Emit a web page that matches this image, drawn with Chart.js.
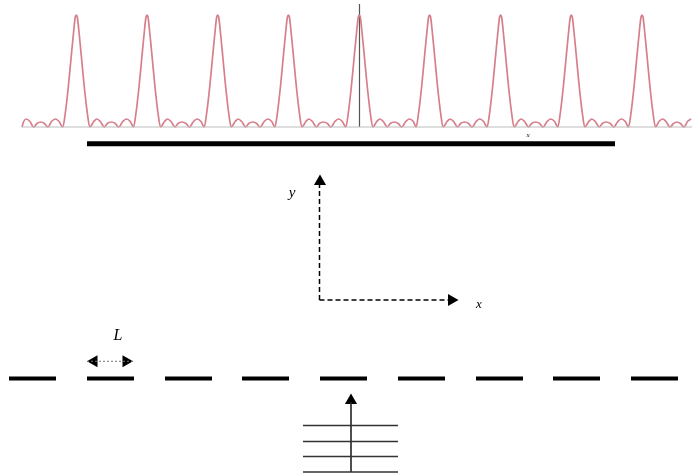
<!DOCTYPE html>
<html>
<head>
<meta charset="utf-8">
<script src="https://cdn.jsdelivr.net/npm/chart.js@4"></script>
<style>
  html, body { margin: 0; padding: 0; background: #fff; overflow: hidden; }
  canvas { display: block; }
</style>
</head>
<body>
<canvas id="chart" width="692" height="474"></canvas>
<script>

// intensity curve, one row per fringe
const curveX = [
  22, 23.5, 26, 30, 33.5, 37, 40.7, 44.5, 48, 51.5, 55.7, 59,
  62.8, 65.3, 68.3, 70.8, 73.3, 75.3, 76.3, 77.3, 79.3, 81.8, 84.3, 87.3, 89.8, 93.8, 96.8, 100.3, 104.3, 107.3, 111.3, 115.3, 118.8, 122.8, 126.3, 130.3,
  133.5, 136, 139, 141.5, 144, 146, 147, 148, 150, 152.5, 155, 158, 160.5, 164.5, 167.5, 171, 175, 178, 182, 186, 189.5, 193.5, 197, 201,
  204.2, 206.7, 209.7, 212.2, 214.7, 216.7, 217.7, 218.7, 220.7, 223.2, 225.7, 228.7, 231.2, 235.2, 238.2, 241.7, 245.7, 248.7, 252.7, 256.7, 260.2, 264.2, 267.7, 271.7,
  274.9, 277.4, 280.4, 282.9, 285.4, 287.4, 288.4, 289.4, 291.4, 293.9, 296.4, 299.4, 301.9, 305.9, 308.9, 312.4, 316.4, 319.4, 323.4, 327.4, 330.9, 334.9, 338.4, 342.4,
  345.8, 348.3, 351.3, 353.8, 356.3, 358.3, 359.3, 360.3, 362.3, 364.8, 367.3, 370.3, 372.8, 376.8, 379.8, 383.3, 387.3, 390.3, 394.3, 398.3, 401.8, 405.8, 409.3, 413.3,
  416.1, 418.6, 421.6, 424.1, 426.6, 428.6, 429.6, 430.6, 432.6, 435.1, 437.6, 440.6, 443.1, 447.1, 450.1, 453.6, 457.6, 460.6, 464.6, 468.6, 472.1, 476.1, 479.6, 483.6,
  487.1, 489.6, 492.6, 495.1, 497.6, 499.6, 500.6, 501.6, 503.6, 506.1, 508.6, 511.6, 514.1, 518.1, 521.1, 524.6, 528.6, 531.6, 535.6, 539.6, 543.1, 547.1, 550.6, 554.6,
  557.8, 560.3, 563.3, 565.8, 568.3, 570.3, 571.3, 572.3, 574.3, 576.8, 579.3, 582.3, 584.8, 588.8, 591.8, 595.3, 599.3, 602.3, 606.3, 610.3, 613.8, 617.8, 621.3, 625.3,
  628.5, 631, 634, 636.5, 639, 641, 642, 643, 645, 647.5, 650, 653, 655.5, 659, 662.7, 666, 670, 673.5, 677, 680.5, 684, 687.5, 691
];
const curveI = [
  0, 5, 8, 5.5, 0, 3.5, 5, 3.5, 0, 5.5, 8, 5.5,
  0, 14, 40, 66, 92, 110, 112, 110, 92, 66, 40, 14, 0, 5.5, 8, 5.5, 0, 3.5, 5, 3.5, 0, 5.5, 8, 5.5,
  0, 14, 40, 66, 92, 110, 112, 110, 92, 66, 40, 14, 0, 5.5, 8, 5.5, 0, 3.5, 5, 3.5, 0, 5.5, 8, 5.5,
  0, 14, 40, 66, 92, 110, 112, 110, 92, 66, 40, 14, 0, 5.5, 8, 5.5, 0, 3.5, 5, 3.5, 0, 5.5, 8, 5.5,
  0, 14, 40, 66, 92, 110, 112, 110, 92, 66, 40, 14, 0, 5.5, 8, 5.5, 0, 3.5, 5, 3.5, 0, 5.5, 8, 5.5,
  0, 14, 40, 66, 92, 110, 112, 110, 92, 66, 40, 14, 0, 5.5, 8, 5.5, 0, 3.5, 5, 3.5, 0, 5.5, 8, 5.5,
  0, 14, 40, 66, 92, 110, 112, 110, 92, 66, 40, 14, 0, 5.5, 8, 5.5, 0, 3.5, 5, 3.5, 0, 5.5, 8, 5.5,
  0, 14, 40, 66, 92, 110, 112, 110, 92, 66, 40, 14, 0, 5.5, 8, 5.5, 0, 3.5, 5, 3.5, 0, 5.5, 8, 5.5,
  0, 14, 40, 66, 92, 110, 112, 110, 92, 66, 40, 14, 0, 5.5, 8, 5.5, 0, 3.5, 5, 3.5, 0, 5.5, 8, 5.5,
  0, 14, 40, 66, 92, 110, 112, 110, 92, 66, 40, 14, 0, 5.5, 8, 5.5, 0, 3.5, 5, 3.5, 0, 5.5, 8
];

// slits
const slitStart = [9, 87, 165, 242, 320, 398, 476, 553, 631];
const slitEnd = [56, 134, 212, 289, 367, 445, 523, 600, 678];

// incoming wave fronts
const waveY = [425.5, 441.5, 456.5, 472];

const labelText = ["y", "x", "L", "x"];
const labelX = [292, 479, 118, 528];
const labelY = [193, 305, 336, 135];
const labelSize = [15, 13, 16, 7];

function xy(xs, ys) {
  return xs.map((x, i) => ({ x: x, y: ys[i] }));
}

function line(xs, ys, color, width, dash) {
  return {
    data: xy(xs, ys),
    borderColor: color,
    borderWidth: width,
    borderDash: dash || [],
    pointRadius: 0,
    showLine: true,
    clip: false
  };
}

function head(x, y, rot) {
  return {
    data: [{ x: x, y: y }],
    pointStyle: "triangle",
    pointRotation: rot,
    pointRadius: 7,
    pointBackgroundColor: "#000",
    pointBorderWidth: 0,
    showLine: false,
    clip: false
  };
}

const datasets = [];

datasets.push(line([22, 692], [127, 127], "#bdbdbd", 1.2));
datasets.push(Object.assign(line(curveX, curveI, "#d67f8b", 1.7), {
  yAxisID: "yI",
  cubicInterpolationMode: "monotone"
}));
datasets.push(line([359.5, 359.5], [4, 127], "#555555", 1.2));
datasets.push(line([87, 615], [143.7, 143.7], "#000", 5));

// dashed axes
datasets.push(line([319.5, 319.5], [300, 184], "#000", 1.5, [5, 3]));
datasets.push(line([319.5, 449], [300, 300], "#000", 1.5, [5, 3]));
datasets.push(head(320, 181.5, 0));
datasets.push(head(451.5, 300, 90));

slitStart.forEach((s, i) => {
  datasets.push(line([s, slitEnd[i]], [378.5, 378.5], "#000", 4));
});

// L marker
datasets.push(line([87, 133], [361.3, 361.3], "#777", 1, [2, 2]));
datasets.push(head(94, 361.3, -90));
datasets.push(head(126, 361.3, 90));

// incoming wave
waveY.forEach(y => {
  datasets.push(line([303, 398], [y, y], "#333", 1.3));
});
datasets.push(line([351, 351], [472, 402], "#222", 1.6));
datasets.push(head(351, 400.5, 0));

const labelPlugin = {
  id: "labels",
  afterDraw(chart) {
    const ctx = chart.ctx;
    ctx.save();
    ctx.fillStyle = "#000";
    ctx.textAlign = "center";
    ctx.textBaseline = "middle";
    labelText.forEach((t, i) => {
      ctx.font = "italic " + labelSize[i] + "px 'Liberation Serif'";
      ctx.fillText(t, chart.scales.x.getPixelForValue(labelX[i]), chart.scales.y.getPixelForValue(labelY[i]));
    });
    ctx.restore();
  }
};

const myChart = new Chart("chart", {
  type: "scatter",
  data: { datasets: datasets },
  options: {
    responsive: false,
    animation: false,
    devicePixelRatio: 1,
    layout: { padding: 0, autoPadding: false },
    plugins: { legend: { display: false }, tooltip: { enabled: false } },
    scales: {
      x: { display: false, min: 0, max: 692 },
      y: { display: false, min: 0, max: 474, reverse: true },
      // intensity above the base line at y = 127
      yI: { display: false, min: -347, max: 127 }
    }
  },
  plugins: [labelPlugin]
});
</script>
</body>
</html>
